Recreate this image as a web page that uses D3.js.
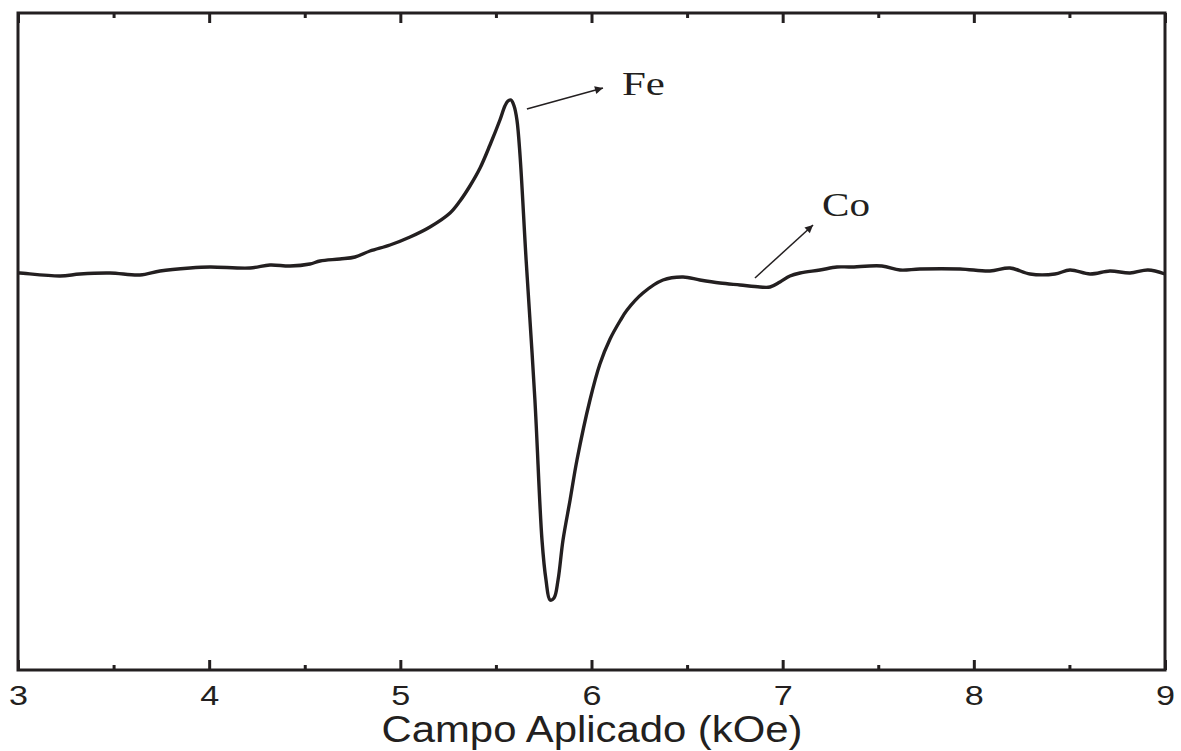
<!DOCTYPE html>
<html>
<head>
<meta charset="utf-8">
<script src="https://cdn.jsdelivr.net/npm/d3@7"></script>
<style>
  html, body { margin: 0; padding: 0; background: #fff; }
  svg { display: block; }
</style>
</head>
<body>
<svg id="chart" width="1181" height="751"></svg>
<script>
// ---- Data (field in kOe, signal in arbitrary units) ----
const fieldKOe = [3.000, 3.010, 3.220, 3.324, 3.481, 3.638, 3.743, 3.900, 4.004, 4.214, 4.318, 4.423, 4.527, 4.580, 4.684, 4.763, 4.841, 4.946, 5.051, 5.155, 5.260, 5.312, 5.364, 5.417, 5.469, 5.521, 5.547, 5.563, 5.579, 5.595, 5.610, 5.626, 5.658, 5.704, 5.741, 5.762, 5.783, 5.804, 5.825, 5.851, 5.888, 5.924, 5.992, 6.044, 6.097, 6.149, 6.186, 6.269, 6.374, 6.479, 6.567, 6.672, 6.777, 6.881, 6.934, 6.986, 7.038, 7.091, 7.195, 7.284, 7.352, 7.519, 7.614, 7.718, 7.928, 8.084, 8.189, 8.294, 8.424, 8.503, 8.608, 8.712, 8.817, 8.911, 9.000];
const signal   = [-0.01, -0.01, -0.04, -0.02, -0.01, -0.03, 0.01, 0.04, 0.05, 0.04, 0.07, 0.06, 0.08, 0.11, 0.13, 0.15, 0.21, 0.27, 0.35, 0.45, 0.59, 0.71, 0.86, 1.04, 1.27, 1.52, 1.66, 1.71, 1.72, 1.66, 1.52, 1.17, 0.12, -1.28, -2.68, -3.08, -3.28, -3.26, -3.08, -2.68, -2.28, -1.88, -1.28, -0.92, -0.67, -0.49, -0.38, -0.21, -0.08, -0.05, -0.08, -0.11, -0.13, -0.15, -0.15, -0.10, -0.04, -0.01, 0.02, 0.05, 0.05, 0.06, 0.02, 0.03, 0.03, 0.01, 0.04, -0.02, -0.02, 0.02, -0.02, 0.01, -0.01, 0.02, -0.02];
const xDomain = [3, 9];
const yDomain = [-3.98, 2.59];
const majorTicks = [3, 4, 5, 6, 7, 8, 9];
const minorTicks = [3.5, 4.5, 5.5, 6.5, 7.5, 8.5];
const xTitle = "Campo Aplicado (kOe)";
const annLabels = ["Fe", "Co"];
const annFromX = [5.662, 6.855];
const annFromY = [1.63, -0.06];
const annToX = [6.060, 7.159];
const annToY = [1.84, 0.47];
const annTextX = [6.159, 7.206];
const annTextY = [1.77, 0.56];

// ---- Layout ----
const svg = d3.select("#chart");
const mLeft = 18, mRight = 1165, mTop = 13, mBottom = 670;
const x = d3.scaleLinear().domain(xDomain).range([mLeft, mRight]);
const y = d3.scaleLinear().domain(yDomain).range([mBottom, mTop]);
const ink = "#231f20";

svg.append("rect").attr("width", 1181).attr("height", 751).attr("fill", "#fff");

// Arrow marker
svg.append("defs").append("marker")
  .attr("id", "arrow").attr("viewBox", "0 0 10 10")
  .attr("refX", 10).attr("refY", 5)
  .attr("markerWidth", 12).attr("markerHeight", 8)
  .attr("markerUnits", "userSpaceOnUse")
  .attr("orient", "auto")
  .append("path").attr("d", "M0,0 L10,5 L0,10 Z").attr("fill", ink);

// Curve
const line = d3.line()
  .x((d, i) => x(fieldKOe[i]))
  .y((d, i) => y(signal[i]))
  .curve(d3.curveCatmullRom.alpha(0.5));
svg.append("path")
  .datum(signal)
  .attr("d", line)
  .attr("fill", "none")
  .attr("stroke", ink)
  .attr("stroke-width", 3.4)
  .attr("stroke-linejoin", "round");

// Axes (bottom with labels, top without) - inward ticks
const bottomMajor = d3.axisBottom(x).tickValues(majorTicks).tickSize(-10).tickFormat(d3.format("d"));
const bottomMinor = d3.axisBottom(x).tickValues(minorTicks).tickSize(-5).tickFormat("");
const topMajor = d3.axisTop(x).tickValues(majorTicks).tickSize(-10).tickFormat("");
const topMinor = d3.axisTop(x).tickValues(minorTicks).tickSize(-5).tickFormat("");

function styleAxis(g) {
  g.select(".domain").remove();
  g.selectAll(".tick line").attr("stroke", ink).attr("stroke-width", 3);
}
const gb = svg.append("g").attr("transform", `translate(0,${mBottom})`).call(bottomMajor).call(styleAxis);
svg.append("g").attr("transform", `translate(0,${mBottom})`).call(bottomMinor).call(styleAxis);
svg.append("g").attr("transform", `translate(0,${mTop})`).call(topMajor).call(styleAxis);
svg.append("g").attr("transform", `translate(0,${mTop})`).call(topMinor).call(styleAxis);

gb.selectAll(".tick text")
  .attr("font-family", "'Liberation Sans', Arial, sans-serif")
  .attr("font-size", 28)
  .attr("fill", ink)
  .attr("y", 35)
  .attr("dy", 0)
  .attr("x", -9.5)
  .attr("text-anchor", "start")
  .attr("textLength", 19)
  .attr("lengthAdjust", "spacingAndGlyphs");

// Frame
svg.append("rect")
  .attr("x", mLeft).attr("y", mTop)
  .attr("width", mRight - mLeft).attr("height", mBottom - mTop)
  .attr("fill", "none").attr("stroke", ink).attr("stroke-width", 3);

// X title
svg.append("text")
  .attr("x", (mLeft + mRight) / 2 - 210)
  .attr("y", 742)
  .attr("font-family", "'Liberation Sans', Arial, sans-serif")
  .attr("font-size", 37)
  .attr("fill", ink)
  .attr("textLength", 421)
  .attr("lengthAdjust", "spacingAndGlyphs")
  .text(xTitle);

// Annotations
annLabels.forEach((lab, i) => {
  svg.append("line")
    .attr("x1", x(annFromX[i])).attr("y1", y(annFromY[i]))
    .attr("x2", x(annToX[i])).attr("y2", y(annToY[i]))
    .attr("stroke", ink).attr("stroke-width", 1.5)
    .attr("marker-end", "url(#arrow)");
  svg.append("text")
    .attr("x", x(annTextX[i])).attr("y", y(annTextY[i]))
    .attr("font-family", "'Liberation Serif', 'Times New Roman', serif")
    .attr("font-size", 34)
    .attr("fill", ink)
    .attr("textLength", lab === "Fe" ? 43 : 48)
    .attr("lengthAdjust", "spacingAndGlyphs")
    .text(lab);
});
</script>
</body>
</html>
